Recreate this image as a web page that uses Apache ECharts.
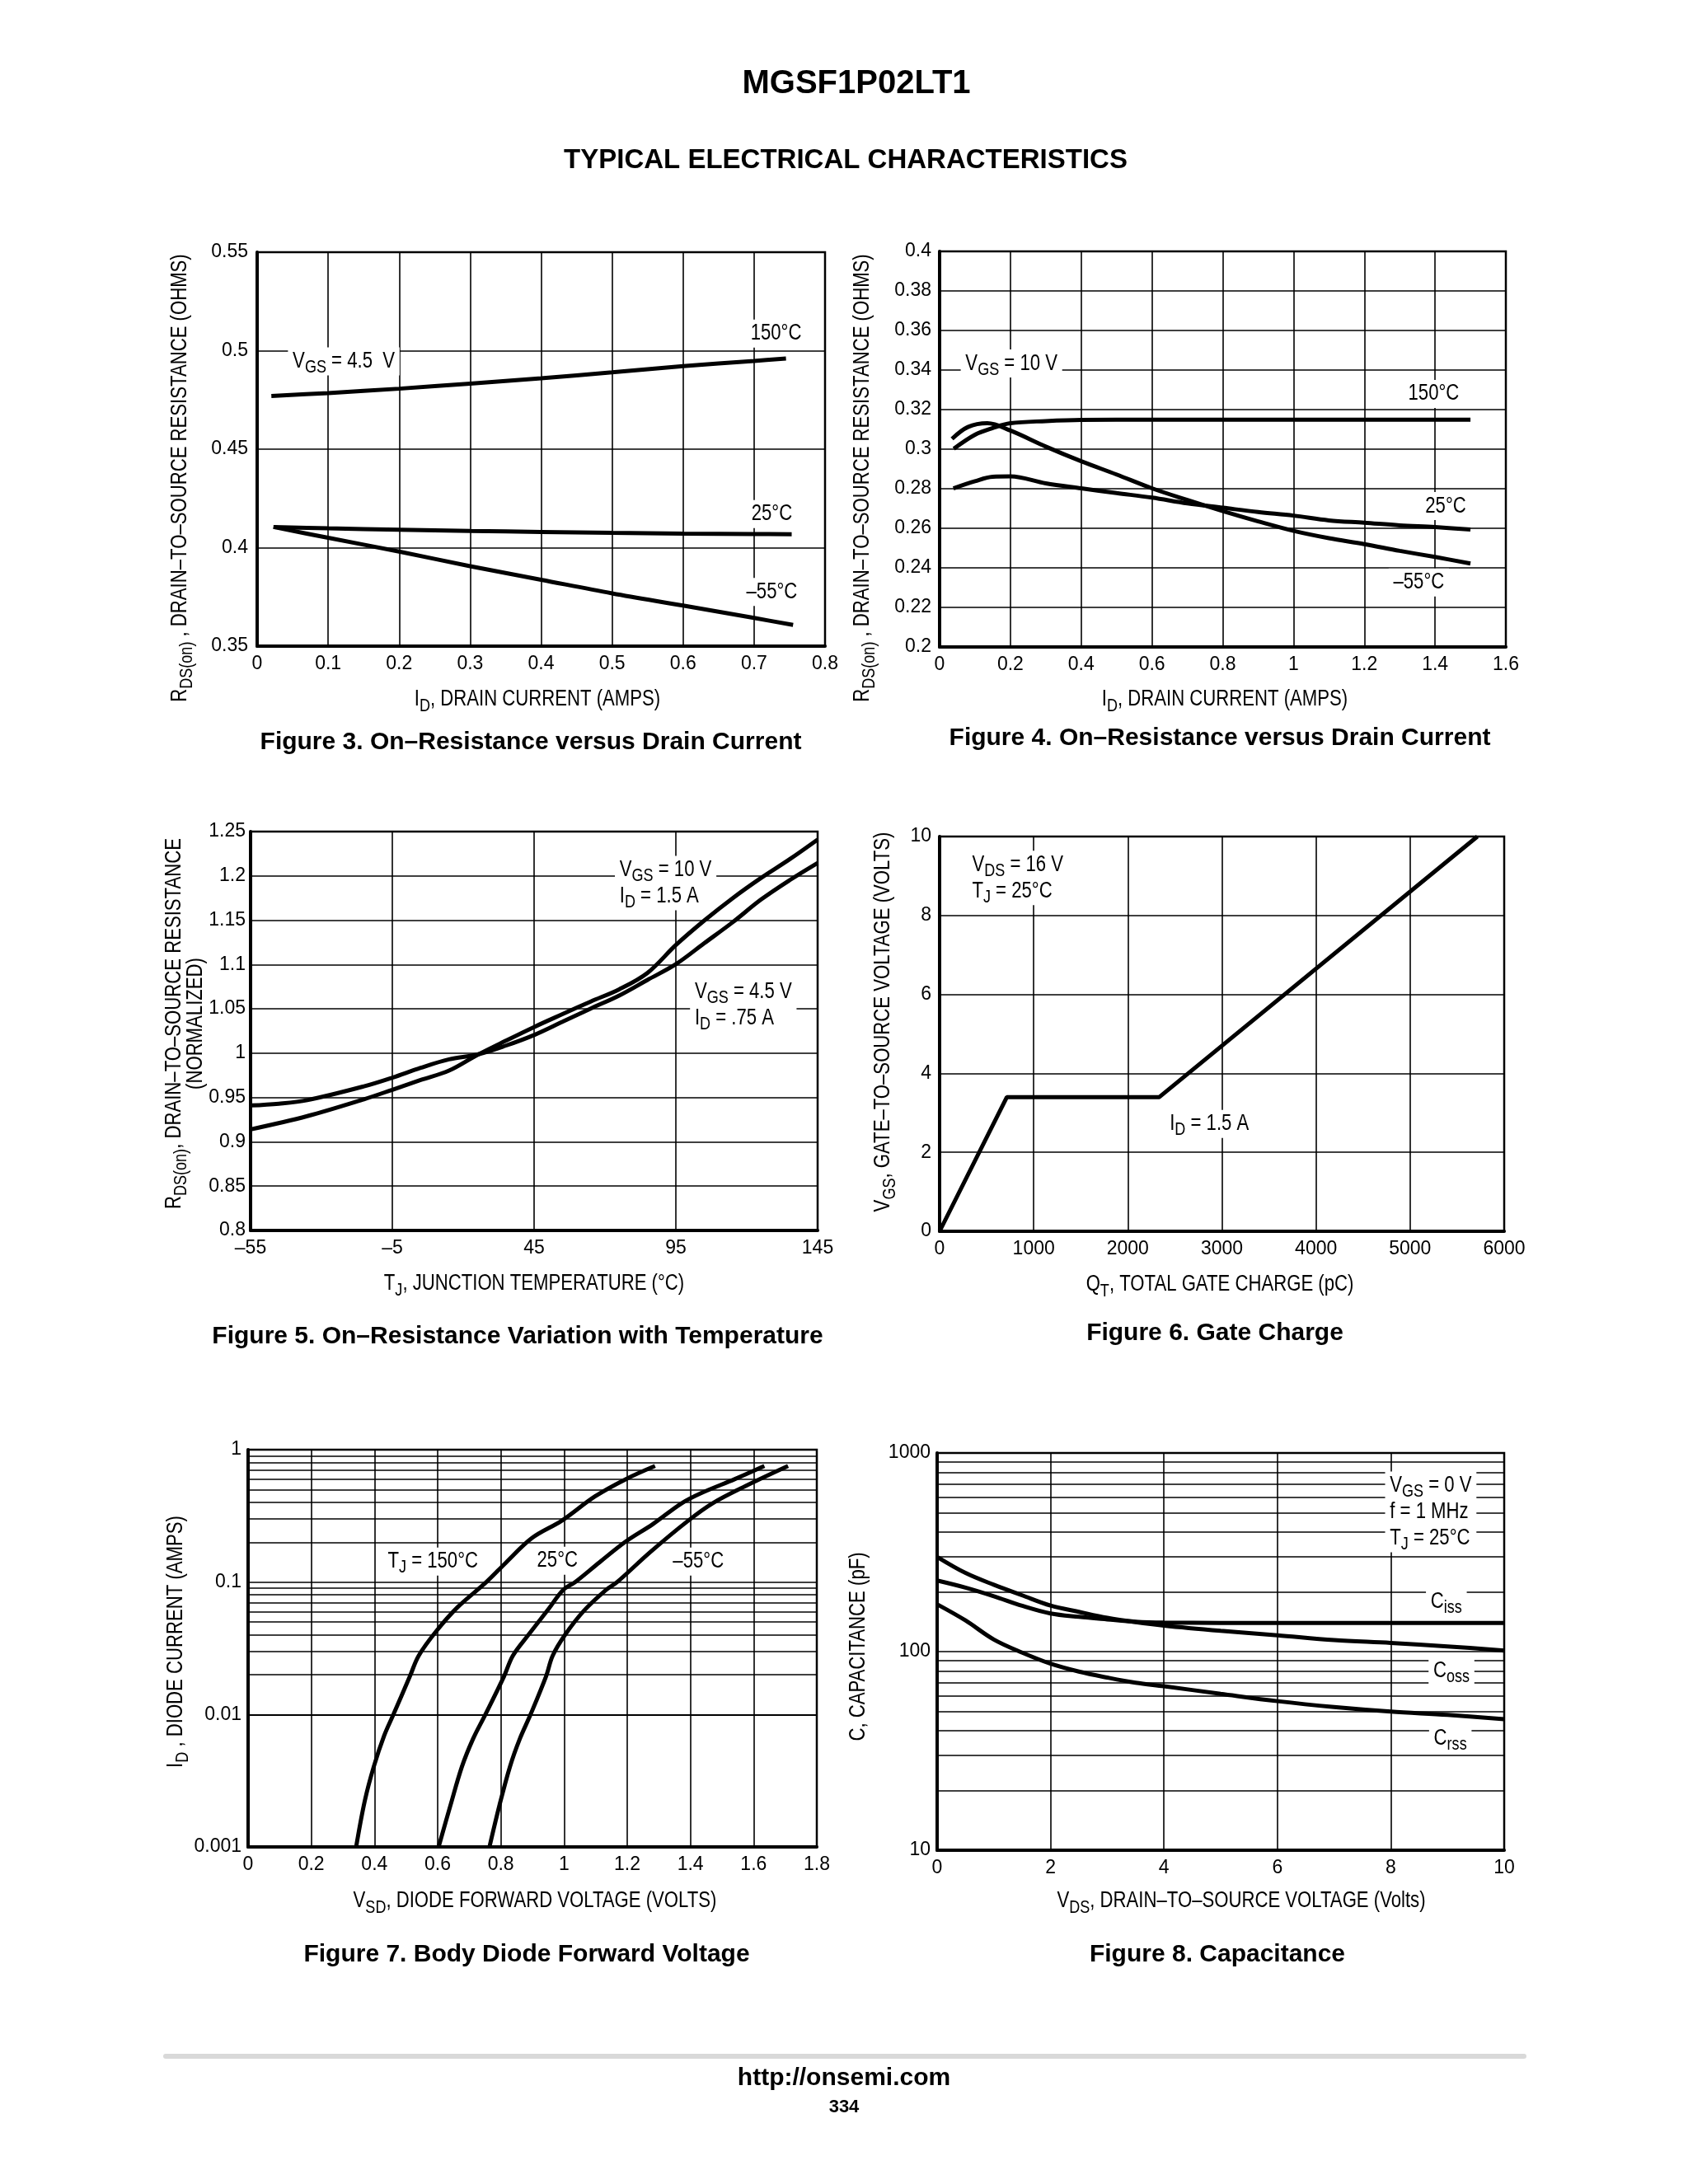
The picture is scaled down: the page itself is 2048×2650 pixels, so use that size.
<!DOCTYPE html>
<html><head><meta charset="utf-8">
<script src="https://cdn.jsdelivr.net/npm/echarts@6/dist/echarts.min.js"></script>
<style>html,body{margin:0;padding:0;background:#fff}#c{width:2048px;height:2650px}</style>
</head><body><div id="c"></div>
<script>
// ---------------- DATA ----------------
// Figure 3: RDS(on) vs ID, VGS = 4.5 V  [ID (A), R (ohm)]
const f3_150C = [[0.02,0.477],[0.1,0.4785],[0.2,0.4807],[0.3,0.4833],[0.4,0.486],[0.5,0.489],[0.6,0.4922],[0.7,0.4948],[0.745,0.496]];
const f3_25C  = [[0.023,0.4105],[0.1,0.4098],[0.2,0.4091],[0.3,0.4085],[0.4,0.408],[0.5,0.4075],[0.6,0.4071],[0.7,0.4069],[0.753,0.4068]];
const f3_m55C = [[0.023,0.4105],[0.1,0.405],[0.2,0.398],[0.3,0.3906],[0.4,0.3837],[0.5,0.3768],[0.6,0.3706],[0.7,0.3643],[0.755,0.3608]];
// Figure 4: RDS(on) vs ID, VGS = 10 V
const f4_150C = [[0.04,0.3002],[0.1,0.3073],[0.15,0.3107],[0.2,0.3131],[0.3,0.3142],[0.4,0.3148],[0.6,0.3149],[0.8,0.3149],[1.0,0.3149],[1.2,0.3149],[1.5,0.3149]];
const f4_25C  = [[0.039,0.2802],[0.1,0.2838],[0.15,0.286],[0.2,0.2862],[0.3,0.2827],[0.4,0.2802],[0.5,0.2778],[0.6,0.2755],[0.7,0.2726],[0.8,0.2704],[0.9,0.2682],[1.0,0.2664],[1.1,0.264],[1.2,0.2628],[1.3,0.2615],[1.4,0.2606],[1.5,0.2594]];
const f4_m55C = [[0.035,0.3052],[0.08,0.3112],[0.135,0.3131],[0.2,0.3094],[0.3,0.3013],[0.4,0.2939],[0.5,0.2872],[0.6,0.2802],[0.7,0.2743],[0.8,0.2687],[0.9,0.2635],[1.0,0.2587],[1.1,0.255],[1.2,0.252],[1.3,0.2486],[1.4,0.2455],[1.5,0.2422]];
// Figure 5: normalized RDS(on) vs TJ  [TJ (C), R]
const f5_vgs10  = [[-55,0.914],[-35,0.929],[-15,0.948],[-5,0.9587],[5,0.9697],[15,0.9803],[25,0.998],[35,1.014],[45,1.0295],[55,1.044],[65,1.0583],[75,1.072],[85,1.0906],[95,1.122],[105,1.1496],[115,1.1748],[125,1.1976],[135,1.2185],[145,1.241]];
const f5_vgs4_5 = [[-55,0.941],[-45,0.943],[-35,0.947],[-15,0.9626],[-5,0.9724],[5,0.9835],[15,0.993],[25,0.9985],[35,1.0085],[45,1.0205],[55,1.0354],[65,1.0504],[75,1.065],[85,1.0827],[95,1.1004],[105,1.124],[115,1.1476],[125,1.1732],[135,1.1949],[145,1.2146]];
// Figure 6: gate charge [QT (pC), VGS (V)]
const f6_gate = [[0,0],[715,3.4],[2335,3.4],[5715,10]];
// Figure 7: body diode [VSD (V), ID (A)]
const f7_150C = [[0.342,0.001],[0.369,0.00221],[0.398,0.00405],[0.431,0.00695],[0.46,0.01],[0.512,0.0194],[0.54,0.0278],[0.595,0.0424],[0.663,0.0646],[0.754,0.1],[0.817,0.141],[0.899,0.2155],[0.993,0.291],[1.098,0.4436],[1.196,0.5997],[1.288,0.753]];
const f7_25C  = [[0.603,0.001],[0.641,0.00208],[0.677,0.00405],[0.712,0.00655],[0.751,0.01],[0.81,0.0194],[0.838,0.0278],[0.887,0.0399],[0.951,0.0627],[0.997,0.0873],[1.035,0.1],[1.112,0.141],[1.196,0.203],[1.281,0.274],[1.372,0.3935],[1.435,0.471],[1.541,0.6],[1.634,0.753]];
const f7_m55C = [[0.764,0.001],[0.796,0.00208],[0.829,0.00405],[0.86,0.00655],[0.894,0.01],[0.943,0.0194],[0.964,0.0278],[1.003,0.0399],[1.063,0.0608],[1.133,0.0873],[1.168,0.1],[1.274,0.1694],[1.393,0.291],[1.47,0.3935],[1.575,0.532],[1.709,0.753]];
// Figure 8: capacitance [VDS (V), C (pF)]
const f8_ciss = [[0,228],[0.5,210],[1,190],[1.5,170],[2,155.5],[2.5,149.6],[3,145.3],[3.5,141.5],[4,140],[5,139.5],[6,139.5],[7,139.5],[8,139.5],[9,139.5],[10,139.5]];
const f8_coss = [[0,300],[0.5,249],[1,217],[1.5,192],[2,170.5],[2.5,158.6],[3,148],[3.5,140.7],[4,135.2],[5,127.3],[6,120.8],[7,114.2],[8,110.6],[9,106.2],[10,101.2]];
const f8_crss = [[0,173],[0.5,143.5],[1,115],[1.5,98.8],[2,86.9],[2.5,79.3],[3,74],[3.5,69.7],[4,66.9],[5,61.3],[6,56.3],[7,52.6],[8,49.9],[9,48],[10,45.7]];
// log-axis minor grid values
const f7_minorGrid = [0.002,0.003,0.004,0.005,0.006,0.007,0.008,0.009,0.02,0.03,0.04,0.05,0.06,0.07,0.08,0.09,0.2,0.3,0.4,0.5,0.6,0.7,0.8,0.9];
const f8_minorGrid = [20,30,40,50,60,70,80,90,200,300,400,500,600,700,800,900];
// Fig 5 temperature axis start (ticks every 50 C from -55)
const f5_tMin = -55;

// ---------------- STYLE / LAYOUT ----------------
const SANS = "'Liberation Sans',Arial,Helvetica,sans-serif";
const COND = 0.82; // horizontal squeeze emulating a condensed face
const grids = [
  {left:312, top:306, width:689, height:478},
  {left:1140, top:305, width:687, height:480},
  {left:304, top:1009, width:688, height:484},
  {left:1140, top:1015, width:685, height:479},
  {left:301, top:1759, width:690, height:482},
  {left:1137, top:1763, width:688, height:482}
].map(g => Object.assign({show:true, borderColor:'#000', borderWidth:2.5, backgroundColor:'transparent', containLabel:false, outerBoundsMode:'none'}, g));

function fmt(v){ return String(parseFloat(Number(v).toPrecision(10))); }
function axis(gi, type, min, max, interval, labelFmt, margin){
  const a = {
    gridIndex: gi, type, min, max,
    axisLine:{show:true, onZero:false, lineStyle:{color:'#000', width:4}},
    axisTick:{show:false},
    splitLine:{show:true, lineStyle:{color:'#000', width:1.6}},
    axisLabel:{formatter: labelFmt || fmt, color:'#000', fontFamily:SANS, fontSize:23,
      margin: margin || 10, showMinLabel:true, showMaxLabel:true},
    z: 0
  };
  if (type === 'log') a.logBase = 10; else a.interval = interval;
  return a;
}
const xAxes = [
  axis(0,'value',0,0.8,0.1),
  axis(1,'value',0,1.6,0.2),
  axis(2,'value',0,200,50, v => fmt(v + f5_tMin).replace('-', '\u2013')),
  axis(3,'value',0,6000,1000),
  axis(4,'value',0,1.8,0.2),
  axis(5,'value',0,10,2)
];
const yAxes = [
  axis(0,'value',0.35,0.55,0.05, null, 11),
  axis(1,'value',0.2,0.4,0.02),
  axis(2,'value',0.8,1.25,0.05, null, 6),
  axis(3,'value',0,10,2),
  axis(4,'log',0.001,1, null, null, 8),
  axis(5,'log',10,1000, null, null, 8)
];

function curve(gi, data, smooth){
  return {type:'line', xAxisIndex:gi, yAxisIndex:gi, data, showSymbol:false, symbol:'none',
    smooth: smooth === undefined ? 0.35 : smooth, lineStyle:{color:'#000', width:5}, z:20, silent:true, animation:false};
}
function minorGrid(gi, values){
  return {type:'line', xAxisIndex:gi, yAxisIndex:gi, data:[], z:1, silent:true, animation:false,
    markLine:{silent:true, symbol:['none','none'], animation:false, label:{show:false},
      lineStyle:{color:'#000', width:1.6, type:'solid'}, emphasis:{disabled:true},
      data: values.map(v => ({yAxis:v}))}};
}
const shift5 = d => d.map(p => [p[0] - f5_tMin, p[1]]);
const series = [
  curve(0,f3_150C), curve(0,f3_25C), curve(0,f3_m55C),
  curve(1,f4_150C), curve(1,f4_25C), curve(1,f4_m55C),
  curve(2,shift5(f5_vgs10)), curve(2,shift5(f5_vgs4_5)),
  curve(3,f6_gate,false),
  minorGrid(4,f7_minorGrid), curve(4,f7_150C), curve(4,f7_25C), curve(4,f7_m55C),
  minorGrid(5,f8_minorGrid), curve(5,f8_ciss), curve(5,f8_coss), curve(5,f8_crss)
];

const chart = echarts.init(document.getElementById('c'), null, {renderer:'canvas', width:2048, height:2650});
chart.setOption({animation:false, backgroundColor:'#fff', grid:grids, xAxis:xAxes, yAxis:yAxes, series});

// ---------------- TEXT ----------------
function rich(size){
  return {
    n:{fontFamily:SANS, fontSize:size, lineHeight:32, fill:'#000'},
    s:{fontFamily:SANS, fontSize:Math.round(size*0.8), lineHeight:17, padding:[15,0,0,0], fill:'#000'}
  };
}
function rt(s){
  return s.split('\n').map(l => '{n|' + l.replace(/_\{([^}]*)\}/g, '}{s|$1}{n|') + '}').join('\n');
}
function txt(x, y, s, opt){
  opt = opt || {};
  const st = {text: rt(s), rich: rich(opt.size || 27), fill:'#000',
    align: opt.align || 'center', verticalAlign:'middle',
    textAlign: opt.align || 'center', textVerticalAlign:'middle'};
  if (opt.bg) { st.backgroundColor = '#fff'; st.padding = [1,7]; }
  return {type:'text', x, y, rotation: opt.rot || 0, scaleX: COND, scaleY: 1, z: opt.z || 5, silent:true, style: st};
}
function plain(x, y, s, font){
  return {type:'text', x, y, z:5, silent:true, style:{text:s, font, fill:'#000', align:'center', verticalAlign:'middle', textAlign:'center', textVerticalAlign:'middle'}};
}
const annotations = [
  [0,0.122,0.4946,'V_{GS} = 4.5  V','center'], [0,0.731,0.5087,'150°C','center'], [0,0.725,0.417,'25°C','center'], [0,0.725,0.3775,'\u201355°C','center'],
  [1,0.203,0.3433,'V_{GS} = 10 V','center'], [1,1.396,0.3279,'150°C','center'], [1,1.43,0.2712,'25°C','center'], [1,1.354,0.2326,'\u201355°C','center'],
  [2,73.5,1.192,'V_{GS} = 10 V\nI_{D} = 1.5 A','left'], [2,100,1.0542,'V_{GS} = 4.5 V\nI_{D} = .75 A','left'],
  [3,295,8.95,'V_{DS} = 16 V\nT_{J} = 25°C','left'], [3,2395,2.72,'I_{D} = 1.5 A','left'],
  [4,0.585,0.143,'T_{J} = 150°C','center'], [4,0.979,0.145,'25°C','center'], [4,1.425,0.143,'\u201355°C','center'],
  [5,7.9,505,'V_{GS} = 0 V\nf = 1 MHz\nT_{J} = 25°C','left'], [5,8.98,179,'C_{iss}','center'], [5,9.07,80,'C_{oss}','center'], [5,9.05,36.6,'C_{rss}','center']
];
const g = [];
annotations.forEach(a => {
  const gi = a[0];
  const xv = gi === 2 ? a[1] - f5_tMin : a[1];
  const p = chart.convertToPixel({gridIndex: gi}, [xv, a[2]]);
  g.push(txt(p[0], p[1], a[3], {align:a[4], bg:true, size:27}));
});
const R90 = Math.PI / 2;
// y axis titles
g.push(txt(219, 580, 'R_{DS(on)} , DRAIN\u2013TO\u2013SOURCE RESISTANCE (OHMS)', {rot:R90}));
g.push(txt(1047, 580, 'R_{DS(on)} , DRAIN\u2013TO\u2013SOURCE RESISTANCE (OHMS)', {rot:R90}));
g.push(txt(212, 1242, 'R_{DS(on)}, DRAIN\u2013TO\u2013SOURCE RESISTANCE', {rot:R90}));
g.push(txt(238, 1242, '(NORMALIZED)', {rot:R90}));
g.push(txt(1072, 1240, 'V_{GS}, GATE\u2013TO\u2013SOURCE VOLTAGE (VOLTS)', {rot:R90}));
g.push(txt(214, 1992, 'I_{D} , DIODE CURRENT (AMPS)', {rot:R90}));
g.push(txt(1042, 1998, 'C, CAPACITANCE (pF)', {rot:R90}));
// x axis titles
g.push(txt(652, 849, 'I_{D}, DRAIN CURRENT (AMPS)'));
g.push(txt(1486, 849, 'I_{D}, DRAIN CURRENT (AMPS)'));
g.push(txt(648, 1558, 'T_{J}, JUNCTION TEMPERATURE (°C)'));
g.push(txt(1480, 1559, 'Q_{T}, TOTAL GATE CHARGE (pC)'));
g.push(txt(649, 2307, 'V_{SD}, DIODE FORWARD VOLTAGE (VOLTS)'));
g.push(txt(1506, 2307, 'V_{DS}, DRAIN\u2013TO\u2013SOURCE VOLTAGE (Volts)'));
// captions
const CAP = 'bold 30px ' + SANS;
g.push(plain(644, 901, 'Figure 3. On\u2013Resistance versus Drain Current', CAP));
g.push(plain(1480, 896, 'Figure 4. On\u2013Resistance versus Drain Current', CAP));
g.push(plain(628, 1622, 'Figure 5. On\u2013Resistance Variation with Temperature', CAP));
g.push(plain(1474, 1618, 'Figure 6. Gate Charge', CAP));
g.push(plain(639, 2372, 'Figure 7. Body Diode Forward Voltage', CAP));
g.push(plain(1477, 2372, 'Figure 8. Capacitance', CAP));
// header / footer
g.push(plain(1039, 102, 'MGSF1P02LT1', 'bold 40px ' + SANS));
g.push(plain(1026, 195, 'TYPICAL ELECTRICAL CHARACTERISTICS', 'bold 33px ' + SANS));
g.push({type:'rect', z:5, silent:true, shape:{x:198, y:2492, width:1654, height:6, r:3}, style:{fill:'#d9d9d9'}});
g.push(plain(1024, 2522, 'http://onsemi.com', 'bold 30px ' + SANS));
g.push(plain(1024, 2557, '334', 'bold 22px ' + SANS));

chart.setOption({graphic: g});
</script></body></html>
